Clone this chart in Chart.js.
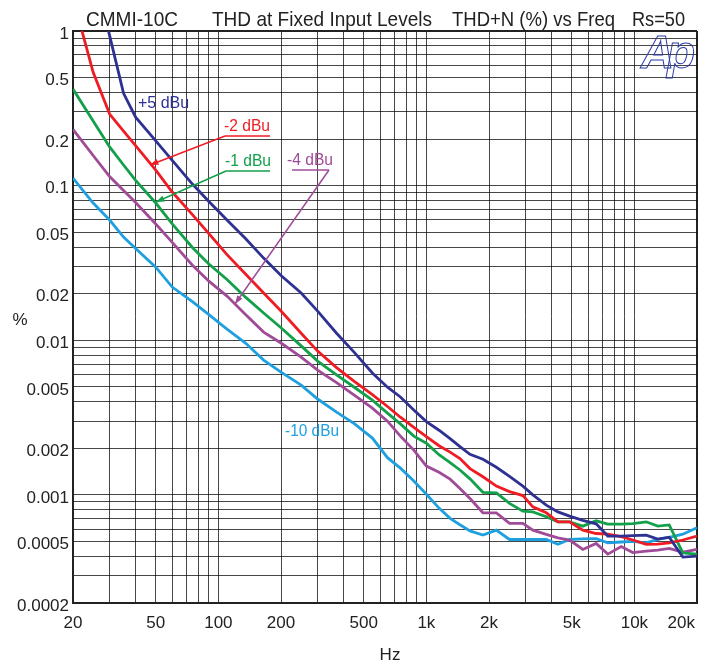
<!DOCTYPE html>
<html>
<head>
<meta charset="utf-8">
<title>CMMI-10C THD at Fixed Input Levels</title>
<script src="https://cdn.jsdelivr.net/npm/chart.js@4.4.1/dist/chart.umd.min.js"></script>
<style>
html, body { margin: 0; padding: 0; background: #fff; }
#wrap { width: 708px; height: 666px; }
</style>
</head>
<body>
<div id="wrap"><canvas id="chart" width="708" height="666"></canvas></div>
<script>
// frequency points (Hz), shared by all sweeps
var freqs = [20, 25, 30, 35, 40, 50, 60, 75, 90, 110, 135, 165, 200, 250, 300, 370, 450, 550, 650, 750,
  870, 1000, 1150, 1300, 1450, 1620, 1870, 2170, 2510, 2910, 3250, 3770, 4290, 4880, 5650, 6550,
  7450, 8640, 9830, 11400, 12950, 14700, 17100, 20000];

// THD+N (%)
var plus5dBu = [null, 2.6, 0.934, 0.395, 0.277, 0.195, 0.1455, 0.1024, 0.0789, 0.0599,
  0.0455, 0.034, 0.0262, 0.0202, 0.01545, 0.0111, 0.00835, 0.00615, 0.00497, 0.0043,
  0.00354, 0.00298, 0.00262, 0.00231, 0.00205, 0.00183, 0.0017, 0.00151, 0.00132, 0.00114,
  0.001, 0.000859, 0.000777, 0.000729, 0.000685, 0.00065, 0.000542, 0.000542, 0.000545, 0.00055,
  0.000518, 0.000533, 0.000396, 0.000402];
var minus2dBu = [1.64, 0.541, 0.29, 0.2255, 0.1817, 0.126, 0.0909, 0.065, 0.0489, 0.0358,
  0.0268, 0.0202, 0.01546, 0.0111, 0.00851, 0.00665, 0.00542, 0.00445, 0.00373, 0.00318,
  0.00273, 0.00238, 0.00208, 0.00189, 0.00172, 0.00148, 0.00131, 0.00114, 0.00105, 0.00099,
  0.000837, 0.000766, 0.00067, 0.00067, 0.000592, 0.000563, 0.000557, 0.000537, 0.000511, 0.000479,
  0.000481, 0.00049, 0.000511, 0.000541];
var minus1dBu = [0.421, 0.262, 0.178, 0.136, 0.108, 0.0772, 0.0566, 0.0398, 0.0311, 0.0247,
  0.019, 0.015, 0.01206, 0.0092, 0.00734, 0.00598, 0.00497, 0.0041, 0.00338, 0.00288,
  0.0024, 0.00216, 0.00182, 0.00162, 0.00145, 0.00127, 0.00104, 0.00103, 0.000881, 0.000785,
  0.000777, 0.000722, 0.00067, 0.00067, 0.000628, 0.00068, 0.000647, 0.000647, 0.000653, 0.00067,
  0.000628, 0.00064, 0.000422, 0.000414];
var minus4dBu = [0.231, 0.1566, 0.1145, 0.0929, 0.0778, 0.0565, 0.043, 0.0306, 0.0241, 0.0193,
  0.01466, 0.0113, 0.0096, 0.00779, 0.00641, 0.00532, 0.00442, 0.00364, 0.003, 0.0024,
  0.00195, 0.001536, 0.0014, 0.001265, 0.0011, 0.000947, 0.000766, 0.000766, 0.000654, 0.000654,
  0.000592, 0.000555, 0.000528, 0.00051, 0.000444, 0.000486, 0.000414, 0.000464, 0.000424, 0.000433,
  0.00044, 0.000451, 0.000426, 0.000444];
var minus10dBu = [0.112, 0.0772, 0.0599, 0.0465, 0.0392, 0.0297, 0.0221, 0.0178, 0.01466, 0.0118,
  0.0096, 0.00745, 0.00623, 0.00513, 0.00417, 0.00343, 0.00289, 0.00233, 0.00174, 0.00149,
  0.00123, 0.00101, 0.000822, 0.000705, 0.000641, 0.000585, 0.00055, 0.000592, 0.000515, 0.000515,
  0.000515, 0.000515, 0.00048, 0.000515, 0.00052, 0.000522, 0.00049, 0.000496, 0.0005, 0.00049,
  0.000515, 0.000531, 0.000557, 0.000614];

// tick labels
var xTickValues = [20, 50, 100, 200, 500, 1000, 2000, 5000, 10000, 20000];
var xTickLabels = ['20', '50', '100', '200', '500', '1k', '2k', '5k', '10k', '20k'];
var yTickValues = [1, 0.5, 0.2, 0.1, 0.05, 0.02, 0.01, 0.005, 0.002, 0.001, 0.0005, 0.0002];
var yTickLabels = ['1', '0.5', '0.2', '0.1', '0.05', '0.02', '0.01', '0.005', '0.002', '0.001', '0.0005', '0.0002'];

var FONT = '"Liberation Sans", Arial, sans-serif';
var NAVY = '#2e3192', RED = '#f01c24', GREEN = '#13a04a', PURPLE = '#a04b98', BLUE = '#1ea0e0';

function points(vals) {
  var out = [];
  for (var i = 0; i < freqs.length; i++) out.push({ x: freqs[i], y: vals[i] });
  return out;
}

// 1..9 x 10^n grid between min and max
function logGrid(min, max) {
  var out = [];
  for (var e = -5; e <= 5; e++) {
    for (var m = 1; m <= 9; m++) {
      var v = parseFloat((m * Math.pow(10, e)).toPrecision(6));
      if (v >= min * 0.9999 && v <= max * 1.0001) out.push({ value: v });
    }
  }
  return out;
}

function labelFor(v, values, labels) {
  for (var i = 0; i < values.length; i++) {
    if (Math.abs(v / values[i] - 1) < 1e-6) return labels[i];
  }
  return '';
}

function arrow(ctx, x1, y1, x2, y2, color) {
  ctx.strokeStyle = color;
  ctx.fillStyle = color;
  ctx.lineWidth = 1.5;
  ctx.beginPath();
  ctx.moveTo(x1, y1);
  ctx.lineTo(x2, y2);
  ctx.stroke();
  var a = Math.atan2(y2 - y1, x2 - x1);
  ctx.beginPath();
  ctx.moveTo(x2, y2);
  ctx.lineTo(x2 - 9 * Math.cos(a - 0.35), y2 - 9 * Math.sin(a - 0.35));
  ctx.lineTo(x2 - 9 * Math.cos(a + 0.35), y2 - 9 * Math.sin(a + 0.35));
  ctx.closePath();
  ctx.fill();
}

var textPlugin = {
  id: 'texts',
  afterDraw: function(chart) {
    var ctx = chart.ctx;
    ctx.save();
    // title
    ctx.fillStyle = '#222';
    ctx.textBaseline = 'middle';
    ctx.textAlign = 'left';
    ctx.font = '21px ' + FONT;
    ctx.fillText('CMMI-10C', 86, 20, 92);
    ctx.fillText('THD at Fixed Input Levels', 212, 20, 220);
    ctx.fillText('THD+N (%) vs Freq', 452, 20, 163);
    ctx.fillText('Rs=50', 632, 20, 53);

    // axis titles
    ctx.font = '17px ' + FONT;
    ctx.textAlign = 'center';
    ctx.fillText('%', 20, 320);
    ctx.fillText('Hz', 390, 655);
    // last x label sits inside the frame
    ctx.textAlign = 'right';
    ctx.fillText(xTickLabels[xTickLabels.length - 1], 695, 623);

    // curve labels
    ctx.font = '16px ' + FONT;
    ctx.textAlign = 'left';
    ctx.fillStyle = NAVY;
    ctx.fillText('+5 dBu', 138, 104, 53);
    ctx.fillStyle = RED;
    ctx.fillText('-2 dBu', 224, 127, 46);
    ctx.fillStyle = GREEN;
    ctx.fillText('-1 dBu', 225, 162, 46);
    ctx.fillStyle = PURPLE;
    ctx.fillText('-4 dBu', 287, 161, 46);
    ctx.fillStyle = BLUE;
    ctx.fillText('-10 dBu', 285, 432, 54);

    // underlines and pointers
    ctx.lineWidth = 1.5;
    ctx.strokeStyle = RED;
    ctx.beginPath(); ctx.moveTo(225, 136); ctx.lineTo(270, 136); ctx.stroke();
    arrow(ctx, 225, 136, 150, 165, RED);
    ctx.strokeStyle = GREEN;
    ctx.beginPath(); ctx.moveTo(226, 171); ctx.lineTo(270, 171); ctx.stroke();
    arrow(ctx, 226, 171, 156, 202, GREEN);
    ctx.strokeStyle = PURPLE;
    ctx.beginPath(); ctx.moveTo(292, 170); ctx.lineTo(329, 170); ctx.stroke();
    arrow(ctx, 329, 170, 235, 304, PURPLE);

    // Ap logo
    ctx.font = 'italic bold 46px ' + FONT;
    ctx.strokeStyle = '#2a3aa8';
    ctx.lineWidth = 1;
    ctx.textBaseline = 'alphabetic';
    ctx.strokeText('A', 641, 68);
    ctx.strokeText('p', 667, 68);
    ctx.restore();
  }
};

var gridColor = 'rgba(0,0,0,0.72)';

var chart = new Chart(document.getElementById('chart').getContext('2d'), {
  type: 'line',
  data: {
    datasets: [
      { label: '+5 dBu', data: points(plus5dBu), borderColor: NAVY },
      { label: '-2 dBu', data: points(minus2dBu), borderColor: RED },
      { label: '-1 dBu', data: points(minus1dBu), borderColor: GREEN },
      { label: '-4 dBu', data: points(minus4dBu), borderColor: PURPLE },
      { label: '-10 dBu', data: points(minus10dBu), borderColor: BLUE }
    ]
  },
  options: {
    responsive: false,
    animation: false,
    devicePixelRatio: 1,
    events: [],
    layout: { padding: { left: 0, top: 31, right: 11, bottom: 0 } },
    elements: {
      line: { borderWidth: 2.8, tension: 0, fill: false },
      point: { radius: 0 }
    },
    plugins: { legend: { display: false }, tooltip: { enabled: false } },
    scales: {
      x: {
        type: 'logarithmic',
        min: 20,
        max: 20000,
        afterBuildTicks: function(scale) { scale.ticks = logGrid(20, 20000); },
        afterFit: function(scale) { scale.height = 63; },
        grid: {
          drawTicks: false,
          color: function(c) { return c.tick && c.tick.value === 20000 ? '#222' : gridColor; },
          lineWidth: function(c) { return c.tick && c.tick.value === 20000 ? 2 : 1; }
        },
        border: { display: true, color: '#222', width: 2 },
        ticks: {
          autoSkip: false,
          maxRotation: 0,
          padding: 10,
          color: '#222',
          font: { family: FONT, size: 17 },
          callback: function(v) {
            if (v === 20000) return '';
            return labelFor(v, xTickValues, xTickLabels);
          }
        }
      },
      y: {
        type: 'logarithmic',
        min: 0.0002,
        max: 1,
        afterBuildTicks: function(scale) { scale.ticks = logGrid(0.0002, 1); },
        afterFit: function(scale) { scale.width = 73; },
        grid: {
          drawTicks: false,
          color: function(c) { return c.tick && c.tick.value === 1 ? '#222' : gridColor; },
          lineWidth: function(c) { return c.tick && c.tick.value === 1 ? 2 : 1; }
        },
        border: { display: true, color: '#222', width: 2 },
        ticks: {
          autoSkip: false,
          padding: 4,
          labelOffset: 3,
          color: '#222',
          font: { family: FONT, size: 17 },
          callback: function(v) { return labelFor(v, yTickValues, yTickLabels); }
        }
      }
    }
  },
  plugins: [textPlugin]
});
</script>
</body>
</html>
